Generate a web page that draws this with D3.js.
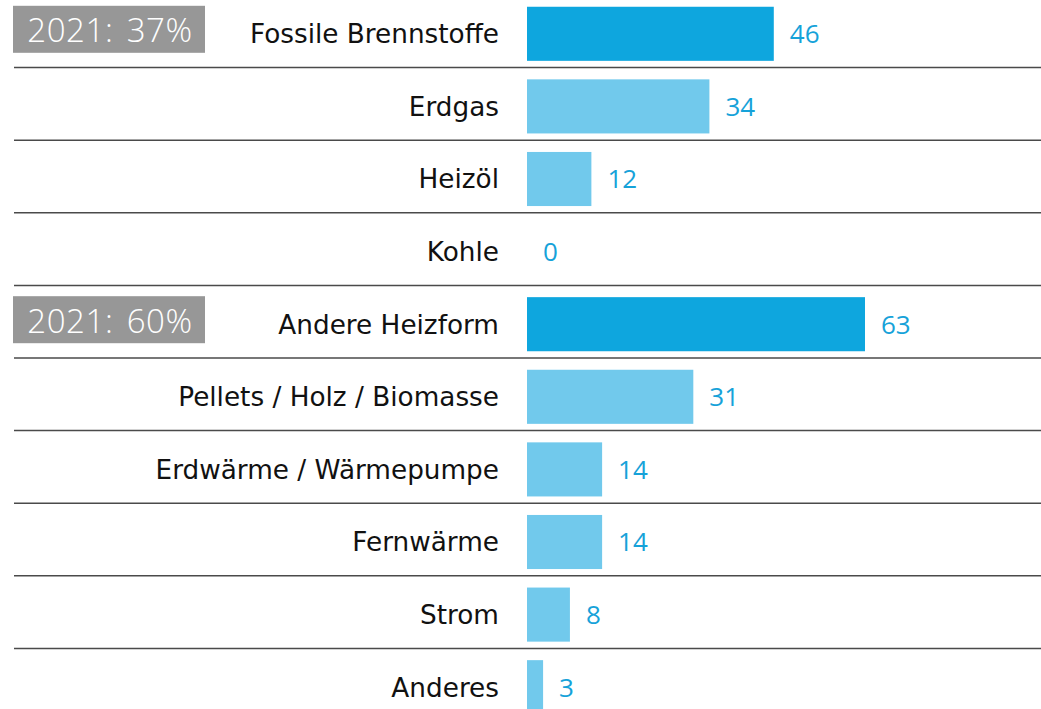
<!DOCTYPE html>
<html>
<head>
<meta charset="utf-8">
<script src="https://cdn.jsdelivr.net/npm/d3@7"></script>
<style>
  body { margin: 0; background: #fff; }
  svg { display: block; }
</style>
</head>
<body>
<svg id="chart" width="1041" height="709"></svg>
<script>
var categories = ["Fossile Brennstoffe", "Erdgas", "Heizöl", "Kohle", "Andere Heizform",
                  "Pellets / Holz / Biomasse", "Erdwärme / Wärmepumpe", "Fernwärme", "Strom", "Anderes"]
var values = [46, 34, 12, 0, 63, 31, 14, 14, 8, 3]
var isTotal = [1, 0, 0, 0, 1, 0, 0, 0, 0, 0]
var badges = ["2021: 37%", null, null, null, "2021: 60%", null, null, null, null, null]

var svg = d3.select("#chart")

var x = d3.scaleLinear()
          .domain([0, 63])
          .range([527, 865])

var y = d3.scaleBand()
          .domain(categories)
          .range([-2.5, 723.5])
          .paddingInner(0.255)
          .paddingOuter(0.1275)

var step = y.step()

// row separators
svg.append("g").attr("id", "sepGroup")
   .selectAll("line").data(categories.slice(1)).enter()
   .append("line")
   .attr("x1", 14)
   .attr("x2", 1041)
   .attr("y1", function(d){ return y(d) - (step - y.bandwidth())/2 - 2.5 })
   .attr("y2", function(d){ return y(d) - (step - y.bandwidth())/2 - 2.5 })
   .attr("stroke", "#4a4a4a")
   .attr("stroke-width", 1.5)

// bars
svg.append("g").attr("id", "barGroup")
   .selectAll("rect").data(values).enter()
   .append("rect")
   .attr("x", x(0))
   .attr("y", function(d, i){ return y(categories[i]) })
   .attr("width", function(d){ return x(d) - x(0) })
   .attr("height", y.bandwidth())
   .attr("fill", function(d, i){ return isTotal[i] ? "#0ea6de" : "#71c9ec" })

// category labels
svg.append("g").attr("id", "labelGroup")
   .selectAll("text").data(categories).enter()
   .append("text")
   .attr("x", 499)
   .attr("y", function(d){ return y(d) + y.bandwidth()/2 })
   .attr("dy", "0.36em")
   .attr("text-anchor", "end")
   .attr("font-family", "'DejaVu Sans', sans-serif")
   .attr("font-size", "26.3px")
   .attr("fill", "#111")
   .text(function(d){ return d })

// value labels
svg.append("g").attr("id", "valueGroup")
   .selectAll("text").data(values).enter()
   .append("text")
   .attr("x", function(d){ return x(d) + 16 })
   .attr("y", function(d, i){ return y(categories[i]) + y.bandwidth()/2 })
   .attr("dy", "0.36em")
   .attr("font-family", "'Open Sans', sans-serif")
   .attr("font-size", "26px")
   .attr("fill", "#16a2d9")
   .text(function(d){ return d })

// grey badges with 2021 shares
var badgeRows = []
for (var i = 0; i < badges.length; i++) {
  if (badges[i]) badgeRows.push([categories[i], badges[i]])
}

var badgeGroup = svg.append("g").attr("id", "badgeGroup")

badgeGroup.selectAll("rect").data(badgeRows).enter()
          .append("rect")
          .attr("x", 13)
          .attr("y", function(d){ return y(d[0]) + y.bandwidth()/2 - 28 })
          .attr("width", 192)
          .attr("height", 47)
          .attr("fill", "#979797")

badgeGroup.selectAll("text").data(badgeRows).enter()
          .append("text")
          .attr("x", 110)
          .attr("y", function(d){ return y(d[0]) + y.bandwidth()/2 - 3.5 })
          .attr("dy", "0.36em")
          .attr("text-anchor", "middle")
          .attr("font-family", "'Open Sans', sans-serif")
          .attr("font-weight", 300)
          .attr("font-size", "33px")
          .attr("word-spacing", "4px")
          .attr("letter-spacing", "0.6px")
          .attr("fill", "#fff")
          .text(function(d){ return d[1] })
</script>
</body>
</html>
